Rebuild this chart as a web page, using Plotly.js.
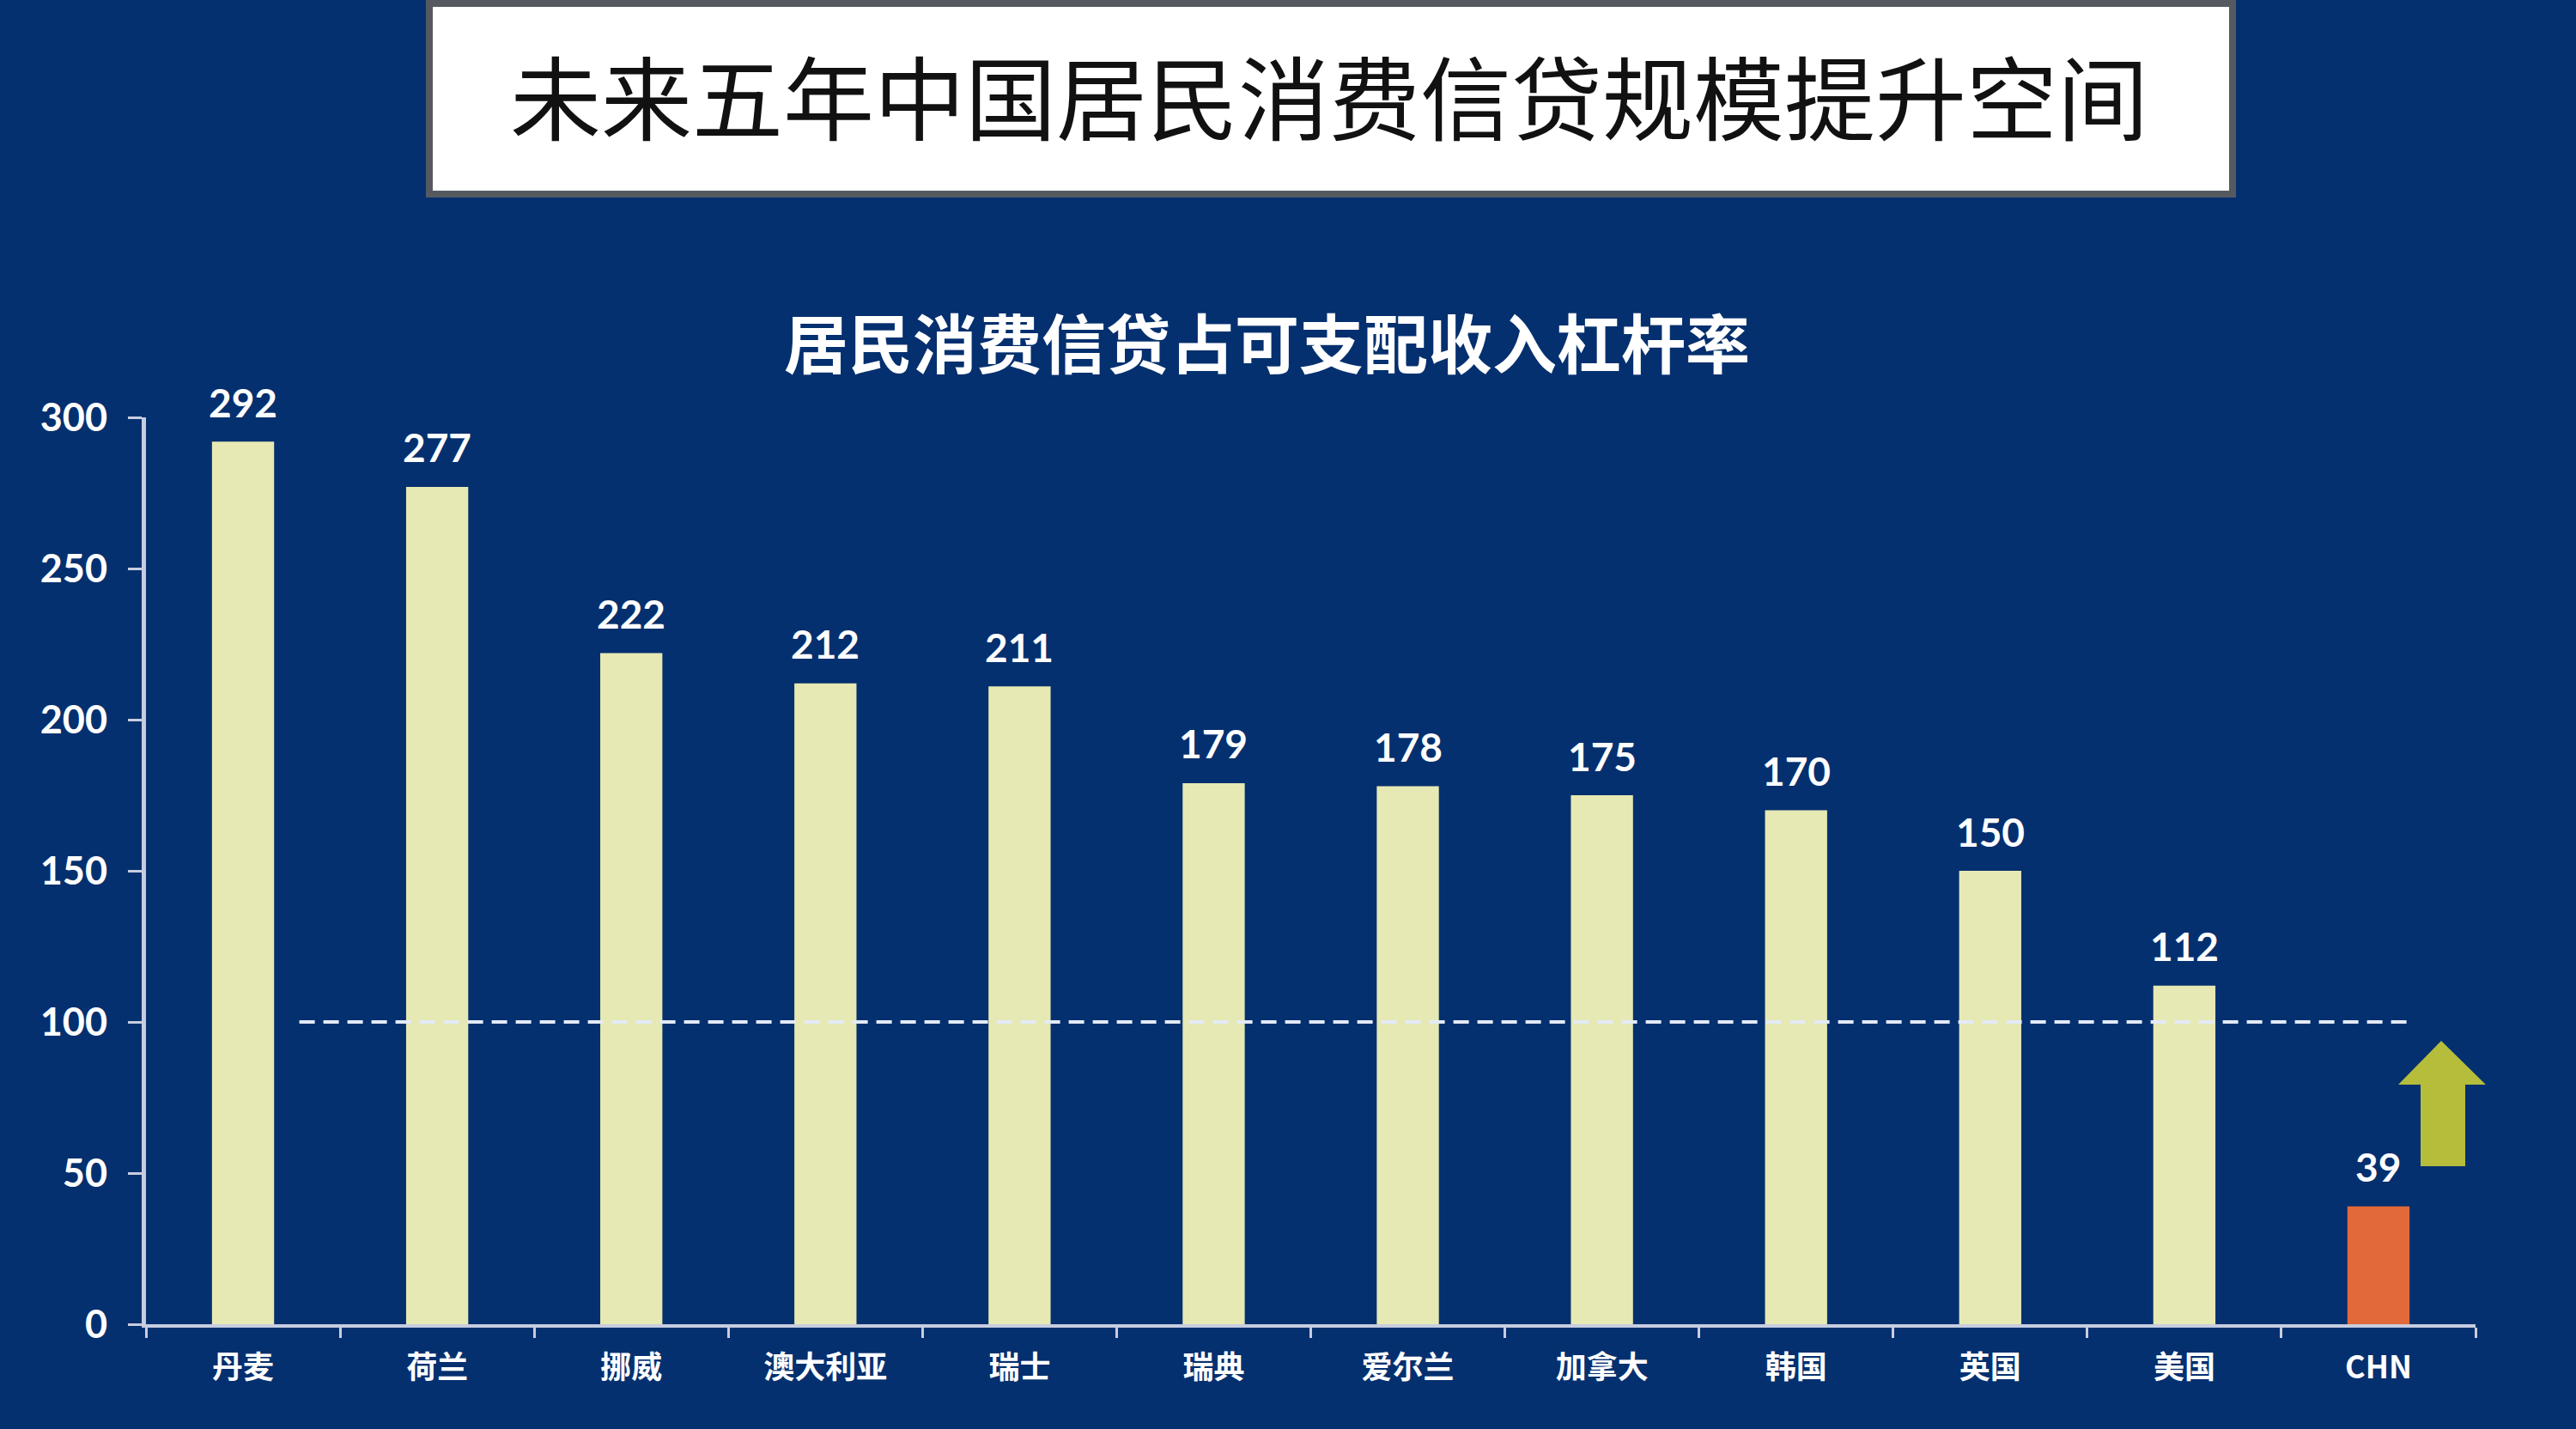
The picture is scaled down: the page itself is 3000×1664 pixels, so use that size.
<!DOCTYPE html>
<html>
<head>
<meta charset="utf-8">
<script src="https://cdn.plot.ly/plotly-3.0.1.min.js"></script>
<style>html,body{margin:0;padding:0;background:#05306f;}#chart{width:3000px;height:1664px;}</style>
</head>
<body>
<div id="chart"></div>
<script>
// ---- data ----
const categories = ["丹麦","荷兰","挪威","澳大利亚","瑞士","瑞典","爱尔兰","加拿大","韩国","英国","美国","CHN"];
const leverage = [292, 277, 222, 212, 211, 179, 178, 175, 170, 150, 112, 39];
const highlightCategory = "CHN";
const benchmark = 100;
const yTicks = [0, 50, 100, 150, 200, 250, 300];
const mainTitle = "未来五年中国居民消费信贷规模提升空间";
const subTitle = "居民消费信贷占可支配收入杠杆率";

// ---- layout geometry (pixels) ----
const FW = 3000, FH = 1664;
const M = {l: 170, r: 117, t: 486, b: 122};
const PW = FW - M.l - M.r, PH = FH - M.t - M.b;
const px = v => (v - M.l) / PW;
const py = v => (FH - M.b - v) / PH;

const BG = "#05306f";
const BAR = "#e6e9b3";
const HL = "#e2693a";
const AXIS = "#c7cde0";
const numFont = "Lato, 'Open Sans', sans-serif";
const cjkFont = "'Noto Sans CJK SC', 'Noto Sans', sans-serif";

const colors = categories.map(c => c === highlightCategory ? HL : BAR);

const trace = {
  type: "bar",
  x: categories,
  y: leverage,
  marker: {color: colors, line: {width: 0}},
  hoverinfo: "skip"
};

const labels = categories.map((c, i) => ({
  x: c, y: leverage[i], xref: "x", yref: "y",
  text: "<b>" + leverage[i] + "</b>",
  showarrow: false, yanchor: "middle", yshift: 46,
  font: {family: numFont, size: 46, color: "#ffffff"}
}));

// block arrow (decoration)
const arrowPts = [[2843,1212],[2895,1263],[2871,1263],[2871,1358],[2819,1358],[2819,1263],[2793,1263]];
const arrowPath = arrowPts.map((p, i) => (i ? "L" : "M") + px(p[0]).toFixed(5) + "," + py(p[1]).toFixed(5)).join(" ") + " Z";

const layout = {
  width: FW, height: FH,
  paper_bgcolor: BG, plot_bgcolor: BG,
  margin: M,
  showlegend: false,
  bargap: 0.68,
  title: {
    text: mainTitle,
    x: 1548 / FW, y: 1 - 118 / FH, xref: "container", yref: "container",
    xanchor: "center", yanchor: "middle",
    font: {family: cjkFont, size: 106, color: "#111111"}
  },
  xaxis: {
    type: "category",
    range: [-0.5, categories.length - 0.5],
    showline: true, linecolor: AXIS, linewidth: 4,
    ticks: "outside", tickson: "boundaries", ticklen: 12, tickwidth: 3, tickcolor: AXIS,
    showgrid: false, zeroline: false,
    tickfont: {family: cjkFont, size: 36, color: "#ffffff", weight: "bold"},
    ticklabelstandoff: 16
  },
  yaxis: {
    range: [0, 300],
    tickvals: yTicks,
    ticktext: yTicks.map(v => "<b>" + v + "</b>"),
    showline: true, linecolor: AXIS, linewidth: 5,
    ticks: "outside", ticklen: 16, tickwidth: 3, tickcolor: AXIS,
    showgrid: false, zeroline: false,
    tickfont: {family: numFont, size: 45, color: "#ffffff"},
    ticklabelstandoff: 15
  },
  shapes: [
    {type: "rect", xref: "paper", yref: "paper",
     x0: px(500), x1: px(2600), y0: py(4), y1: py(226),
     fillcolor: "#ffffff", line: {color: "#555a61", width: 8}, layer: "below"},
    {type: "line", xref: "x", yref: "y", x0: 0.29, x1: 11.16, y0: benchmark, y1: benchmark,
     line: {color: "#e3eaf6", width: 4, dash: "18px,10px"}},
    {type: "path", xref: "paper", yref: "paper", path: arrowPath,
     fillcolor: "#b6bd3b", line: {width: 0}}
  ],
  annotations: labels.concat([
    {xref: "paper", yref: "paper", x: px(1475), y: py(396),
     xanchor: "center", yanchor: "middle", showarrow: false,
     text: "<b>" + subTitle + "</b>",
     font: {family: cjkFont, size: 75, color: "#ffffff"}}
  ])
};

Plotly.newPlot("chart", [trace], layout, {displayModeBar: false, staticPlot: true});
</script>
</body>
</html>
